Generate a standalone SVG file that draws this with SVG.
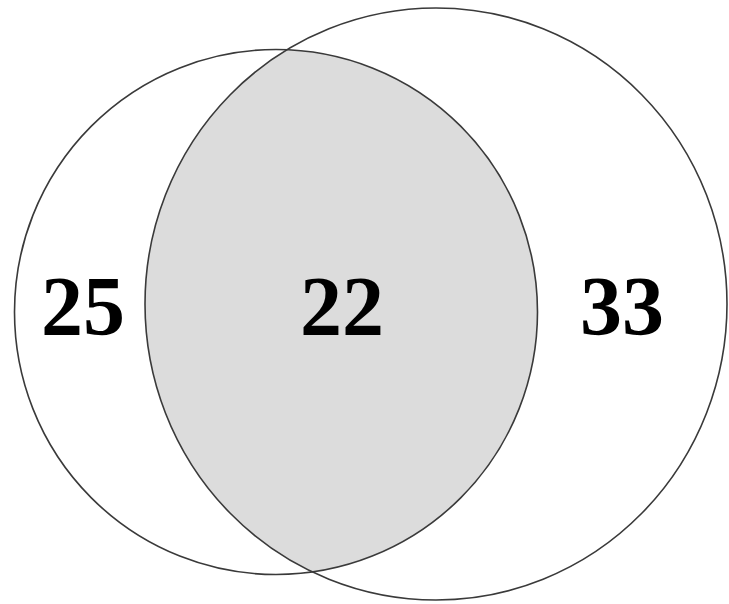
<svg xmlns="http://www.w3.org/2000/svg" width="729" height="604" viewBox="0 0 729 604">
<style>
.c{fill:none;stroke:#3a3a3a;stroke-width:1.6}
.t{font-family:"Liberation Serif","Times New Roman",serif;font-weight:bold;font-size:84px;fill:#000;text-anchor:middle}
</style>
<defs>
<clipPath id="clipL"><ellipse cx="276" cy="312" rx="261.5" ry="262.5"/></clipPath>
</defs>
<rect width="729" height="604" fill="#fff"/>
<g id="overlap">
<ellipse cx="436" cy="304" rx="291" ry="296" fill="#dcdcdc" clip-path="url(#clipL)"/>
</g>
<g id="setA">
<ellipse class="c" cx="276" cy="312" rx="261.5" ry="262.5"/>
<text class="t" x="83" y="335">25</text>
</g>
<g id="setB">
<ellipse class="c" cx="436" cy="304" rx="291" ry="296"/>
<text class="t" x="622" y="335">33</text>
</g>
<g id="intersection">
<text class="t" x="342" y="335">22</text>
</g>
</svg>
